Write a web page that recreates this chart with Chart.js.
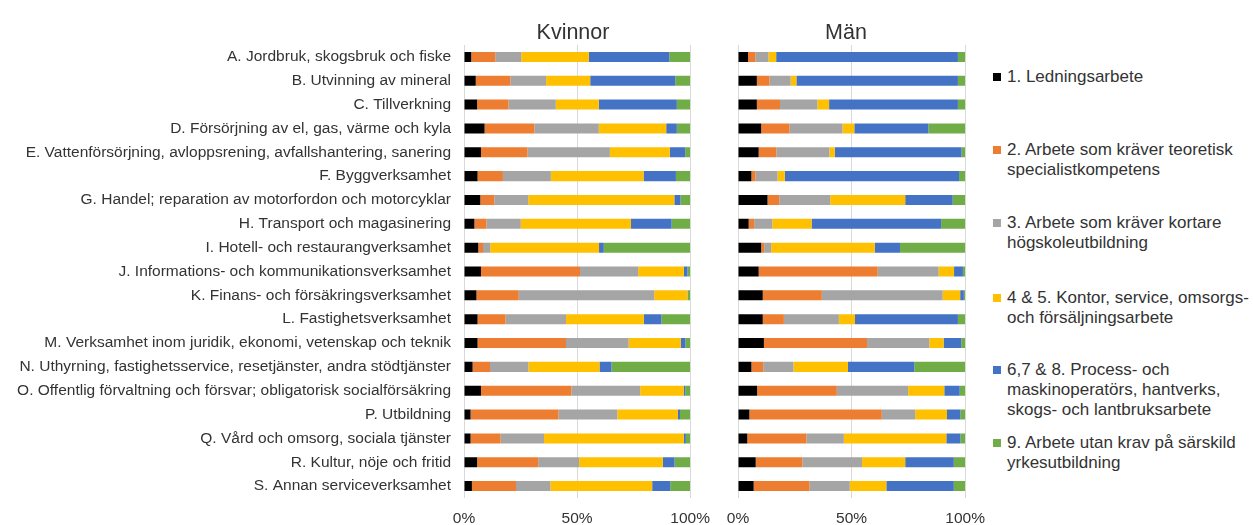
<!DOCTYPE html>
<html>
<head>
<meta charset="utf-8">
<script src="https://cdn.jsdelivr.net/npm/chart.js@4/dist/chart.umd.min.js"></script>
<style>
  html, body { margin: 0; padding: 0; background: #ffffff; }
  body { width: 1253px; height: 525px; position: relative; overflow: hidden; font-family: "Liberation Sans", Arial, sans-serif; color: #333333; }
  canvas { position: absolute; top: 0; }
  .title { position: absolute; top: 20px; font-size: 21.5px; transform: translateX(-50%); white-space: nowrap; }
  .leg { position: absolute; left: 1007px; font-size: 17px; line-height: 20px; white-space: nowrap; }
  .leg i { position: absolute; left: -14px; top: 6px; width: 8px; height: 8px; }
</style>
</head>
<body>
<canvas id="c1" width="721" height="525" style="left:0px"></canvas>
<canvas id="c2" width="286" height="525" style="left:710px"></canvas>
<div class="title" style="left:573px">Kvinnor</div>
<div class="title" style="left:846px">Män</div>
<div id="legend"></div>
<script>
const categories = [
  "A. Jordbruk, skogsbruk och fiske",
  "B. Utvinning av mineral",
  "C. Tillverkning",
  "D. Försörjning av el, gas, värme och kyla",
  "E. Vattenförsörjning, avloppsrening, avfallshantering, sanering",
  "F. Byggverksamhet",
  "G. Handel; reparation av motorfordon och motorcyklar",
  "H. Transport och magasinering",
  "I. Hotell- och restaurangverksamhet",
  "J. Informations- och kommunikationsverksamhet",
  "K. Finans- och försäkringsverksamhet",
  "L. Fastighetsverksamhet",
  "M. Verksamhet inom juridik, ekonomi, vetenskap och teknik",
  "N. Uthyrning, fastighetsservice, resetjänster, andra stödtjänster",
  "O. Offentlig förvaltning och försvar; obligatorisk socialförsäkring",
  "P. Utbildning",
  "Q. Vård och omsorg, sociala tjänster",
  "R. Kultur, nöje och fritid",
  "S. Annan serviceverksamhet"
];

const seriesNames = [
  ["1. Ledningsarbete"],
  ["2. Arbete som kräver teoretisk", "specialistkompetens"],
  ["3. Arbete som kräver kortare", "högskoleutbildning"],
  ["4 & 5. Kontor, service, omsorgs-", "och försäljningsarbete"],
  ["6,7 & 8. Process- och", "maskinoperatörs, hantverks,", "skogs- och lantbruksarbete"],
  ["9. Arbete utan krav på särskild", "yrkesutbildning"]
];

const seriesColors = ["#000000", "#ED7D31", "#A5A5A5", "#FFC000", "#4472C4", "#70AD47"];

// Kvinnor (women), % per category A..S
const kvinnor1 = [3.2, 5.2, 5.8, 9.1, 7.5, 6.0, 7.2, 4.6, 6.3, 7.5, 5.5, 6.0, 6.0, 3.8, 7.5, 2.9, 2.9, 5.8, 3.5];
const kvinnor2 = [10.6, 15.3, 13.9, 22.0, 20.6, 11.2, 6.2, 5.3, 2.1, 43.8, 18.7, 12.4, 39.1, 7.7, 40.0, 38.9, 13.3, 27.0, 19.5];
const kvinnor3 = [11.5, 15.8, 20.9, 28.5, 36.4, 21.2, 15.0, 15.2, 3.2, 25.7, 59.9, 26.7, 27.7, 17.0, 30.4, 26.0, 19.2, 18.1, 15.2];
const kvinnor45 = [29.9, 19.5, 19.0, 29.8, 26.5, 41.0, 64.6, 48.7, 48.1, 20.2, 14.7, 34.4, 23.0, 31.4, 19.2, 26.8, 61.8, 37.0, 45.0];
const kvinnor678 = [35.6, 37.6, 34.5, 4.7, 6.8, 14.3, 2.7, 18.0, 2.1, 1.6, 0.1, 7.8, 2.1, 5.3, 0.7, 0.9, 0.9, 5.2, 8.0];
const kvinnor9 = [9.2, 6.6, 5.9, 5.9, 2.2, 6.3, 4.3, 8.2, 38.2, 1.2, 1.1, 12.7, 2.1, 34.8, 2.2, 4.5, 1.9, 6.9, 8.8];

// Män (men), % per category A..S
const man1 = [4.4, 8.3, 8.3, 10.2, 9.1, 5.9, 13.0, 4.7, 10.2, 9.1, 10.9, 10.9, 11.4, 5.9, 8.4, 5.0, 4.1, 7.8, 6.9];
const man2 = [3.2, 5.6, 10.2, 12.5, 7.8, 1.8, 5.2, 2.4, 1.3, 52.4, 26.0, 9.3, 45.4, 5.2, 35.1, 58.3, 26.0, 20.5, 24.6];
const man3 = [5.8, 9.3, 16.4, 23.3, 23.3, 9.7, 22.4, 8.0, 3.1, 26.8, 53.2, 24.2, 27.4, 13.3, 31.4, 14.7, 16.5, 26.3, 17.7];
const man45 = [3.4, 2.5, 5.2, 5.2, 2.4, 3.2, 33.0, 17.3, 45.6, 6.8, 7.7, 7.1, 6.3, 24.0, 15.9, 14.0, 45.1, 19.0, 16.1];
const man678 = [80.0, 71.1, 56.7, 32.6, 55.8, 76.7, 20.9, 57.0, 11.1, 3.9, 1.6, 45.3, 7.8, 29.2, 6.8, 5.9, 6.2, 21.4, 29.7];
const man9 = [3.2, 3.2, 3.2, 16.2, 1.6, 2.7, 5.5, 10.6, 28.7, 1.0, 0.6, 3.2, 1.7, 22.4, 2.4, 2.1, 2.1, 5.0, 5.0];

const xTicks = [0, 50, 100];

const kvinnorSeries = [kvinnor1, kvinnor2, kvinnor3, kvinnor45, kvinnor678, kvinnor9];
const manSeries = [man1, man2, man3, man45, man678, man9];

const FONT = "'Liberation Sans', Arial, sans-serif";
const TEXT = "#333333";
const GRID = "#D9D9D9";

function makeDatasets(series) {
  return series.map((vals, i) => ({
    label: seriesNames[i].join(" "),
    data: vals,
    backgroundColor: seriesColors[i],
    borderWidth: 0,
    barPercentage: 0.42,
    categoryPercentage: 1.0
  }));
}

function makeChart(id, series, showLabels, yWidth) {
  return new Chart(document.getElementById(id), {
    type: "bar",
    data: { labels: categories, datasets: makeDatasets(series) },
    options: {
      indexAxis: "y",
      responsive: false,
      animation: false,
      devicePixelRatio: 1,
      layout: { padding: { top: 45, right: 22, left: 0, bottom: 0 } },
      plugins: { legend: { display: false }, tooltip: { enabled: false }, title: { display: false } },
      scales: {
        x: {
          stacked: true,
          min: 0,
          max: 100,
          afterBuildTicks: (scale) => { scale.ticks = xTicks.map(v => ({ value: v })); },
          afterFit: (scale) => { scale.height = 27; },
          ticks: {
            callback: (v) => v + "%",
            color: TEXT,
            font: { family: FONT, size: 15.5 },
            padding: 11,
            maxRotation: 0,
            autoSkip: false
          },
          grid: { color: GRID, lineWidth: 1, drawTicks: false },
          border: { display: false }
        },
        y: {
          stacked: true,
          afterFit: (scale) => { scale.width = yWidth; },
          ticks: {
            display: showLabels,
            color: TEXT,
            font: { family: FONT, size: 15.5 },
            padding: 13,
            autoSkip: false
          },
          grid: { display: false, drawTicks: false },
          border: { display: false }
        }
      }
    }
  });
}

makeChart("c1", kvinnorSeries, true, 464);
makeChart("c2", manSeries, false, 28);

// Legend (HTML text)
const legendTops = [67, 140, 213, 288, 360, 433];
const legendEl = document.getElementById("legend");
seriesNames.forEach((lines, i) => {
  const d = document.createElement("div");
  d.className = "leg";
  d.style.top = legendTops[i] + "px";
  const sw = document.createElement("i");
  sw.style.background = seriesColors[i];
  d.appendChild(sw);
  lines.forEach((ln, k) => {
    if (k > 0) d.appendChild(document.createElement("br"));
    d.appendChild(document.createTextNode(ln));
  });
  legendEl.appendChild(d);
});
</script>
</body>
</html>
